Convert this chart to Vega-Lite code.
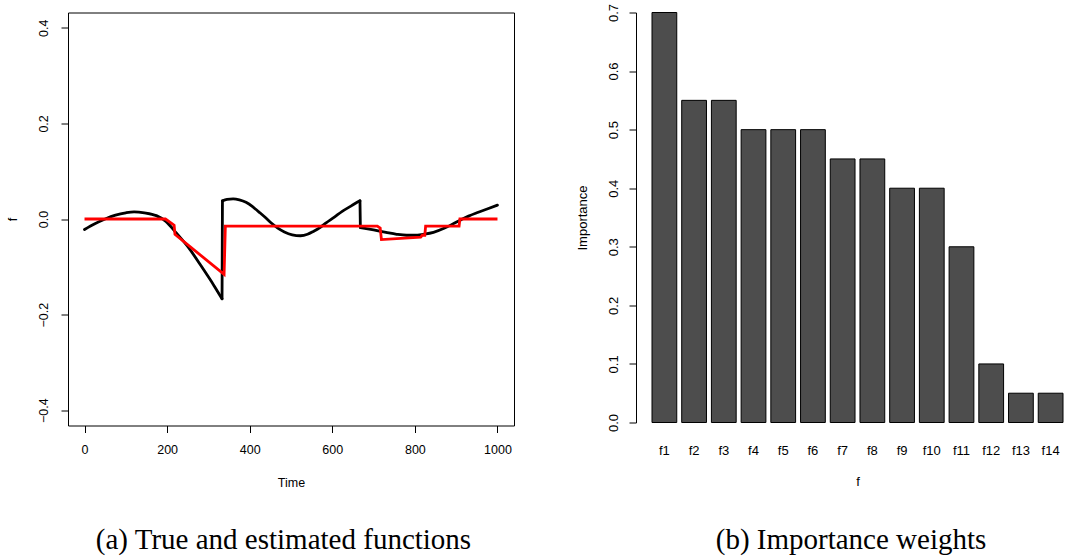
{
  "$schema": "https://vega.github.io/schema/vega-lite/v6.json",
  "autosize": {"type": "pad"},
  "padding": {"left": 5, "top": 2.5, "right": 0, "bottom": 0},
  "bounds": "flush",
  "spacing": 138,
  "background": "white",
  "config": {
    "font": "Liberation Sans",
    "view": {"stroke": null},
    "axis": {"labelColor": "black", "titleColor": "black", "tickColor": "black", "domainColor": "black", "grid": false, "titleFontWeight": "normal", "tickWidth": 1, "domainWidth": 1},
    "title": {"font": "Liberation Serif", "fontSize": 29, "fontWeight": "normal", "color": "black", "orient": "bottom", "anchor": "middle"}
  },
  "datasets": {
    "truef": [
      {"Time": 0, "f": -0.022, "seg": "a"},
      {"Time": 25, "f": -0.010, "seg": "a"},
      {"Time": 50, "f": 0.000, "seg": "a"},
      {"Time": 75, "f": 0.008, "seg": "a"},
      {"Time": 100, "f": 0.013, "seg": "a"},
      {"Time": 120, "f": 0.015, "seg": "a"},
      {"Time": 145, "f": 0.013, "seg": "a"},
      {"Time": 174, "f": 0.007, "seg": "a"},
      {"Time": 197, "f": -0.005, "seg": "a"},
      {"Time": 221, "f": -0.028, "seg": "a"},
      {"Time": 252, "f": -0.060, "seg": "a"},
      {"Time": 283, "f": -0.099, "seg": "a"},
      {"Time": 314, "f": -0.140, "seg": "a"},
      {"Time": 333, "f": -0.167, "seg": "a"},
      {"Time": 333, "f": -0.167, "seg": "j1"},
      {"Time": 334, "f": 0.038, "seg": "j1"},
      {"Time": 334, "f": 0.038, "seg": "b"},
      {"Time": 345, "f": 0.041, "seg": "b"},
      {"Time": 360, "f": 0.042, "seg": "b"},
      {"Time": 375, "f": 0.040, "seg": "b"},
      {"Time": 391, "f": 0.035, "seg": "b"},
      {"Time": 407, "f": 0.026, "seg": "b"},
      {"Time": 422, "f": 0.015, "seg": "b"},
      {"Time": 438, "f": 0.003, "seg": "b"},
      {"Time": 453, "f": -0.009, "seg": "b"},
      {"Time": 468, "f": -0.019, "seg": "b"},
      {"Time": 484, "f": -0.027, "seg": "b"},
      {"Time": 503, "f": -0.033, "seg": "b"},
      {"Time": 523, "f": -0.035, "seg": "b"},
      {"Time": 540, "f": -0.032, "seg": "b"},
      {"Time": 554, "f": -0.026, "seg": "b"},
      {"Time": 570, "f": -0.018, "seg": "b"},
      {"Time": 585, "f": -0.008, "seg": "b"},
      {"Time": 605, "f": 0.004, "seg": "b"},
      {"Time": 624, "f": 0.016, "seg": "b"},
      {"Time": 645, "f": 0.027, "seg": "b"},
      {"Time": 667, "f": 0.038, "seg": "b"},
      {"Time": 667, "f": 0.038, "seg": "j2"},
      {"Time": 668, "f": -0.018, "seg": "j2"},
      {"Time": 668, "f": -0.018, "seg": "c"},
      {"Time": 700, "f": -0.023, "seg": "c"},
      {"Time": 730, "f": -0.028, "seg": "c"},
      {"Time": 756, "f": -0.032, "seg": "c"},
      {"Time": 780, "f": -0.034, "seg": "c"},
      {"Time": 800, "f": -0.034, "seg": "c"},
      {"Time": 820, "f": -0.032, "seg": "c"},
      {"Time": 845, "f": -0.028, "seg": "c"},
      {"Time": 872, "f": -0.019, "seg": "c"},
      {"Time": 895, "f": -0.009, "seg": "c"},
      {"Time": 911, "f": -0.002, "seg": "c"},
      {"Time": 930, "f": 0.006, "seg": "c"},
      {"Time": 950, "f": 0.013, "seg": "c"},
      {"Time": 975, "f": 0.021, "seg": "c"},
      {"Time": 1000, "f": 0.029, "seg": "c"}
    ],
    "estf": [
      {"Time": 0, "f": 0},
      {"Time": 196, "f": 0},
      {"Time": 217, "f": -0.013},
      {"Time": 219, "f": -0.032},
      {"Time": 338, "f": -0.116},
      {"Time": 341, "f": -0.015},
      {"Time": 709, "f": -0.015},
      {"Time": 716, "f": -0.019},
      {"Time": 719, "f": -0.043},
      {"Time": 814, "f": -0.038},
      {"Time": 818, "f": -0.034},
      {"Time": 824, "f": -0.034},
      {"Time": 826, "f": -0.015},
      {"Time": 907, "f": -0.015},
      {"Time": 909, "f": 0},
      {"Time": 1000, "f": 0}
    ],
    "weights": [
      {"f": "f1", "Importance": 0.70},
      {"f": "f2", "Importance": 0.55},
      {"f": "f3", "Importance": 0.55},
      {"f": "f4", "Importance": 0.50},
      {"f": "f5", "Importance": 0.50},
      {"f": "f6", "Importance": 0.50},
      {"f": "f7", "Importance": 0.45},
      {"f": "f8", "Importance": 0.45},
      {"f": "f9", "Importance": 0.40},
      {"f": "f10", "Importance": 0.40},
      {"f": "f11", "Importance": 0.30},
      {"f": "f12", "Importance": 0.10},
      {"f": "f13", "Importance": 0.05},
      {"f": "f14", "Importance": 0.05}
    ]
  },
  "hconcat": [
    {
      "width": 446,
      "height": 413,
      "view": {"stroke": "black", "strokeWidth": 1},
      "title": {"text": "(a) True and estimated functions", "offset": 37, "dx": -7.5},
      "encoding": {
        "x": {"field": "Time", "type": "quantitative", "scale": {"domain": [-40, 1040], "nice": false, "zero": false},
          "axis": {"values": [0, 200, 400, 600, 800, 1000], "format": "d", "domain": false, "tickSize": 7, "labelFontSize": 12.5, "labelPadding": 11, "titleFontSize": 12.5, "titlePadding": 20, "labelFlush": false}},
        "y": {"field": "f", "type": "quantitative", "scale": {"domain": [-0.432, 0.432], "nice": false, "zero": false},
          "axis": {"values": [-0.4, -0.2, 0, 0.2, 0.4], "format": ".1f", "domain": false, "tickSize": 7, "labelAngle": -90, "labelAlign": "center", "labelBaseline": "bottom", "labelFontSize": 12.5, "labelPadding": 11, "titleFontSize": 12.5, "titlePadding": 18, "labelFlush": false}},
        "order": {"field": "Time", "type": "quantitative"}
      },
      "layer": [
        {
          "data": {"name": "truef"},
          "mark": {"type": "line", "strokeWidth": 2.8, "color": "black", "interpolate": "monotone", "strokeCap": "round", "strokeJoin": "round", "clip": true},
          "encoding": {"detail": {"field": "seg", "type": "nominal"}}
        },
        {
          "data": {"name": "estf"},
          "mark": {"type": "line", "strokeWidth": 2.8, "color": "#ff0000", "clip": true}
        }
      ]
    },
    {
      "width": 411,
      "height": 410,
      "title": {"text": "(b) Importance weights", "offset": 37, "dx": -6.5},
      "data": {"name": "weights"},
      "mark": {"type": "bar", "fill": "#4D4D4D", "stroke": "black", "strokeWidth": 1},
      "encoding": {
        "x": {"field": "f", "type": "nominal", "sort": null, "scale": {"paddingInner": 0.1667, "paddingOuter": 0},
          "axis": {"labelAngle": 0, "ticks": false, "domain": false, "labelFontSize": 13, "labelPadding": 22, "titleFontSize": 13, "titlePadding": 18}},
        "y": {"field": "Importance", "type": "quantitative", "scale": {"domain": [0, 0.7], "nice": false},
          "axis": {"values": [0, 0.1, 0.2, 0.3, 0.4, 0.5, 0.6, 0.7], "format": ".1f", "offset": 16, "tickSize": 7, "labelAngle": -90, "labelAlign": "center", "labelBaseline": "bottom", "labelFontSize": 13, "labelPadding": 9, "titleFontSize": 13, "titlePadding": 18, "labelFlush": false}}
      }
    }
  ]
}
